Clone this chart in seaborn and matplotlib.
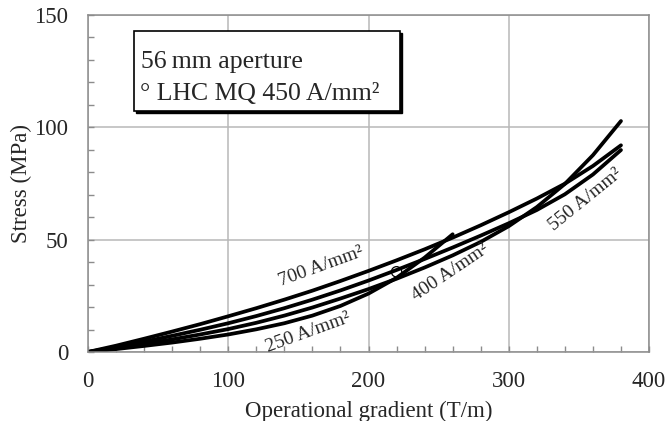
import numpy as np
import pandas as pd
import seaborn as sns
import matplotlib.pyplot as plt
from matplotlib.patches import Rectangle
from matplotlib.ticker import MultipleLocator

# gradient (T/m) and stress (MPa)
grad = [0, 20, 40, 60, 80, 100, 120, 140, 160, 180, 200, 220, 240, 260, 280, 300, 320, 340, 360, 380]
stress_700 = [0, 2.8, 5.9, 9.1, 12.4, 15.9, 19.5, 23.3, 27.3, 31.6, 36.1, 40.8, 45.7, 50.9, 56.4, 62.2, 68.3, 74.9, 82.8, 92.0]
stress_550 = [0, 2.2, 4.6, 7.2, 9.9, 12.8, 16.0, 19.5, 23.3, 27.4, 31.8, 36.5, 41.4, 46.5, 51.8, 57.3, 63.2, 70.2, 79.0, 89.9]
stress_400 = [0, 1.7, 3.6, 5.6, 7.8, 10.2, 13.0, 16.2, 19.8, 23.8, 28.0, 32.6, 37.6, 43.0, 49.0, 56.0, 64.5, 74.8, 87.6, 102.8]
grad_250 = [0, 20, 40, 60, 80, 100, 120, 140, 160, 180, 200, 220, 240, 260]
stress_250 = [0, 1.3, 2.7, 4.2, 5.9, 7.8, 10.1, 12.8, 16.2, 20.5, 26.0, 33.0, 42.0, 52.4]

lhc_grad = [220]
lhc_stress = [35.7]

curve_labels = ["700 A/mm\u00b2", "550 A/mm\u00b2", "400 A/mm\u00b2", "250 A/mm\u00b2"]

frames = []
for lab, g, s in zip(curve_labels,
                     [grad, grad, grad, grad_250],
                     [stress_700, stress_550, stress_400, stress_250]):
    frames.append(pd.DataFrame({"grad": g, "stress": s, "j": lab}))
df = pd.concat(frames, ignore_index=True)

sns.set_style("white")
plt.rcParams['font.family'] = ['Liberation Serif', 'DejaVu Serif']

fig = plt.figure(figsize=(6.68, 4.21), dpi=100)
ax = fig.add_axes([0.1317, 0.1639, 0.9716 - 0.1317, 0.9644 - 0.1639])

sns.lineplot(data=df, x="grad", y="stress", hue="j", units="j", estimator=None,
             palette=["black"] * 4, linewidth=2.7, legend=False, sort=False, ax=ax)
sns.scatterplot(x=lhc_grad, y=lhc_stress, marker="o", s=55, facecolor="none",
                edgecolor="black", linewidth=0.9, ax=ax, zorder=5)

ax.set_xlim(0, 400)
ax.set_ylim(0, 150)
ax.xaxis.set_major_locator(MultipleLocator(100))
ax.xaxis.set_minor_locator(MultipleLocator(20))
ax.yaxis.set_major_locator(MultipleLocator(50))
ax.yaxis.set_minor_locator(MultipleLocator(10))
ax.grid(True, which="major", color="#b8b8b8", linewidth=1.1)
for sp in ax.spines.values():
    sp.set_color("#8c8c8c")
    sp.set_linewidth(1.1)
ax.tick_params(which="both", direction="in", color="#8c8c8c", length=4, width=1,
               labelsize=16.5, pad=14, bottom=True, left=True, top=False, right=False)
ax.set_xlabel("Operational gradient (T/m)", fontsize=16.5, labelpad=6)
ax.set_ylabel("Stress (MPa)", fontsize=16.5, labelpad=2)

# curve labels
ax.text(166, 38.2, curve_labels[0], rotation=20, fontsize=14, ha="center", va="center")
ax.text(355, 68, curve_labels[1], rotation=39, fontsize=14, ha="center", va="center")
ax.text(258, 35.6, curve_labels[2], rotation=34, fontsize=14, ha="center", va="center")
ax.text(157, 8.6, curve_labels[3], rotation=20, fontsize=14, ha="center", va="center")

# note box with shadow
ax.add_patch(Rectangle((0.0855, 0.709), 0.474, 0.238, transform=ax.transAxes,
                       facecolor="black", edgecolor="black", zorder=6))
ax.add_patch(Rectangle((0.082, 0.715), 0.474, 0.238, transform=ax.transAxes,
                       facecolor="white", edgecolor="black", linewidth=1.2, zorder=7))
ax.text(0.095, 0.843, "56\u2009mm aperture", transform=ax.transAxes, fontsize=18.5, zorder=8)
ax.text(0.092, 0.748, "\u00b0 LHC MQ 450 A/mm\u00b2", transform=ax.transAxes, fontsize=18.5, zorder=8)

fig.savefig("out.png", dpi=100)
